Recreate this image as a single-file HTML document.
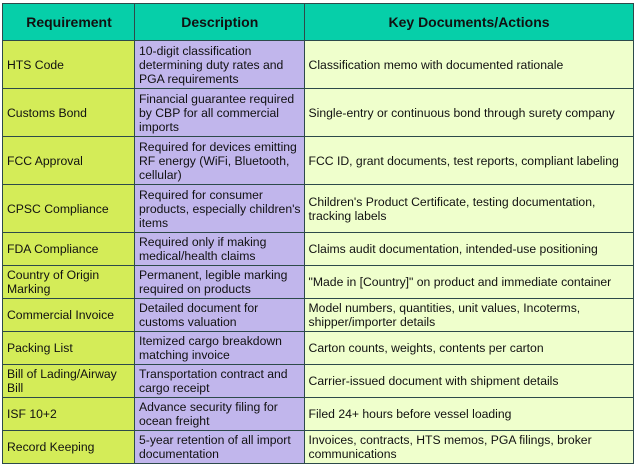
<!DOCTYPE html>
<html><head><meta charset="utf-8"><style>
html,body{margin:0;padding:0;background:#fff;width:635px;height:468px;overflow:hidden}
table{position:absolute;left:2px;top:3px;border-collapse:collapse;table-layout:fixed;font-family:"Liberation Sans",Arial,sans-serif;font-size:12.2px;line-height:14px;color:#111}
td,th{border:1px solid #2d4a4a;padding:0 3px 0 4px;vertical-align:middle;overflow:hidden}
th{background:#06cfa9;font-size:14px;font-weight:bold;text-align:center;height:36px}
td.a{background:#d4ec58}
td.b{background:#c1b6ec}
td.c{background:#efffcc}
.nw{white-space:nowrap}
</style></head><body>
<table>
<colgroup><col style="width:132px"><col style="width:169px"><col style="width:329px"></colgroup>
<tr><th>Requirement</th><th>Description</th><th>Key Documents/Actions</th></tr>
<tr style="height:48px"><td class="a">HTS Code</td><td class="b">10-digit classification determining duty rates and PGA requirements</td><td class="c">Classification memo with documented rationale</td></tr>
<tr style="height:48px"><td class="a">Customs Bond</td><td class="b">Financial guarantee required by CBP for all commercial imports</td><td class="c">Single-entry or continuous bond through surety company</td></tr>
<tr style="height:48px"><td class="a">FCC Approval</td><td class="b">Required for devices emitting RF energy (WiFi, Bluetooth, cellular)</td><td class="c">FCC ID, grant documents, test reports, compliant labeling</td></tr>
<tr style="height:48px"><td class="a">CPSC Compliance</td><td class="b">Required for consumer<br><span class="nw">products, especially children's</span><br>items</td><td class="c">Children's Product Certificate, testing documentation, tracking labels</td></tr>
<tr style="height:33px"><td class="a">FDA Compliance</td><td class="b">Required only if making medical/health claims</td><td class="c">Claims audit documentation, intended-use positioning</td></tr>
<tr style="height:33px"><td class="a">Country of Origin Marking</td><td class="b">Permanent, legible marking required on products</td><td class="c">"Made in [Country]" on product and immediate container</td></tr>
<tr style="height:33px"><td class="a">Commercial Invoice</td><td class="b">Detailed document for customs valuation</td><td class="c">Model numbers, quantities, unit values, Incoterms, shipper/importer details</td></tr>
<tr style="height:33px"><td class="a">Packing List</td><td class="b">Itemized cargo breakdown matching invoice</td><td class="c">Carton counts, weights, contents per carton</td></tr>
<tr style="height:33px"><td class="a">Bill of Lading/Airway Bill</td><td class="b">Transportation contract and cargo receipt</td><td class="c">Carrier-issued document with shipment details</td></tr>
<tr style="height:33px"><td class="a">ISF 10+2</td><td class="b">Advance security filing for ocean freight</td><td class="c">Filed 24+ hours before vessel loading</td></tr>
<tr style="height:33px"><td class="a">Record Keeping</td><td class="b">5-year retention of all import documentation</td><td class="c">Invoices, contracts, HTS memos, PGA filings, broker communications</td></tr>
</table>
</body></html>
